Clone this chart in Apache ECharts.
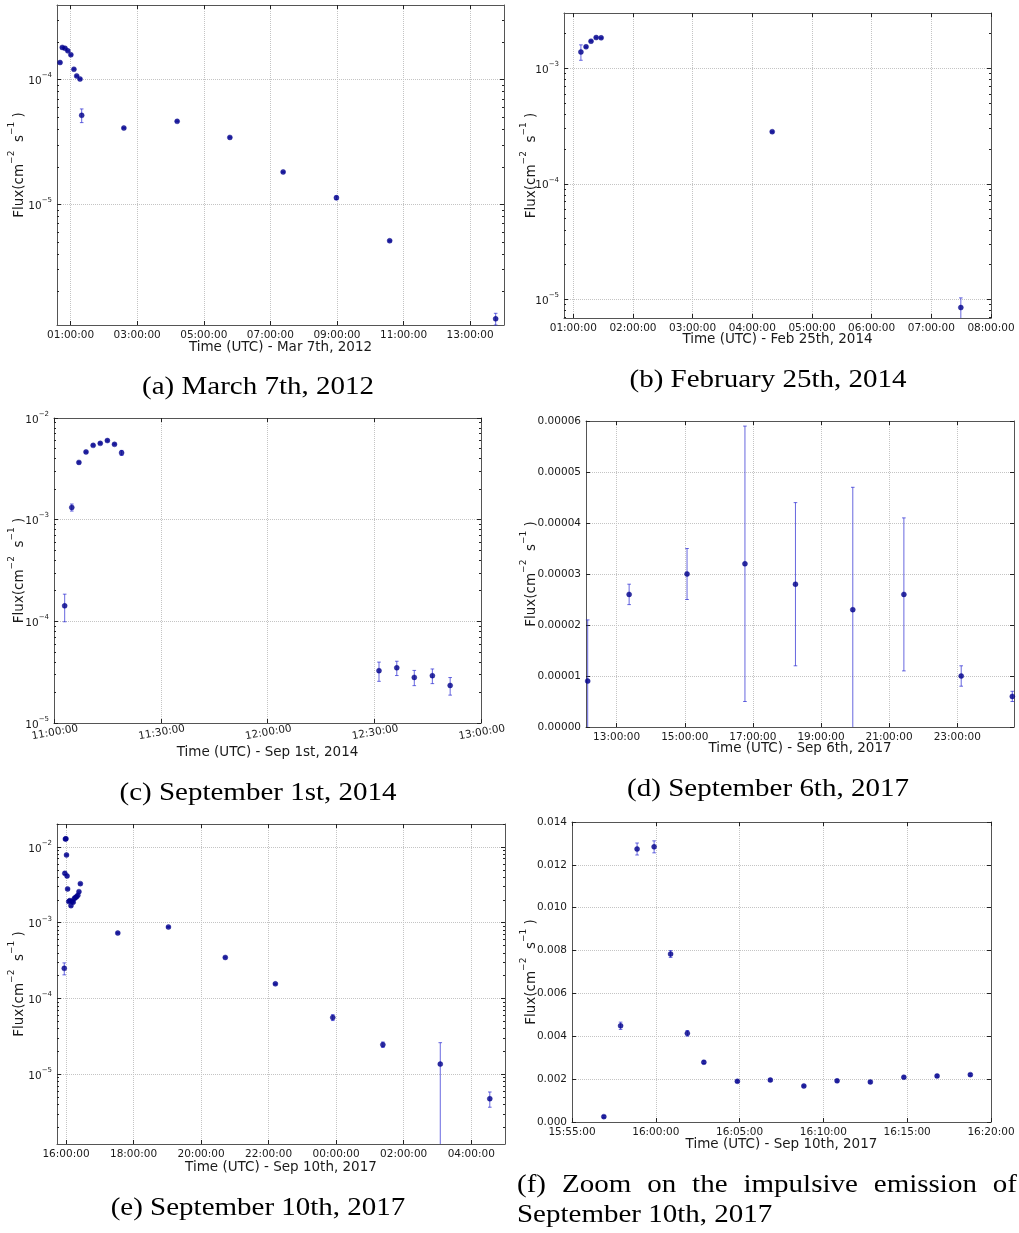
<!DOCTYPE html>
<html>
<head>
<meta charset="utf-8">
<script src="https://cdn.jsdelivr.net/npm/echarts@6/dist/echarts.min.js"></script>
<style>
  html, body { margin: 0; padding: 0; background: #fff; }
  #chart { width: 1019px; height: 1233px; }
</style>
</head>
<body>
<div id="chart"></div>
<script>
// ---------------------------------------------------------------
// Solar flare photon flux light curves (six events)
// Times are UTC clock strings; a time earlier than the previous one
// rolls over to the next day.
// ---------------------------------------------------------------

// (a) March 7th, 2012
const timeA = ['00:41', '00:45', '00:50', '00:55', '01:00:30', '01:06', '01:11', '01:17', '01:20',
               '02:36', '04:12', '05:47', '07:23', '08:59', '10:35', '13:46'];
const fluxA = [1.37e-4, 1.81e-4, 1.78e-4, 1.70e-4, 1.58e-4, 1.21e-4, 1.07e-4, 1.01e-4, 5.17e-5,
               4.09e-5, 4.63e-5, 3.44e-5, 1.82e-5, 1.13e-5, 5.11e-6, 1.21e-6];
const errA  = [1.5e-6, 1.8e-6, 1.8e-6, 1.7e-6, 1.6e-6, 1.2e-6, 1.1e-6, 1.0e-6, 6.5e-6,
               4e-7, 4e-7, 3e-7, 2e-7, 4e-7, 5e-8, 1.3e-7];
const xTickA = ['01:00', '03:00', '05:00', '07:00', '09:00', '11:00', '13:00'];
const yTickA = [1e-5, 1e-4];

// (b) February 25th, 2014
const timeB = ['01:07:40', '01:12:50', '01:17:50', '01:23:00', '01:28:00', '04:20:00', '07:29:40'];
const fluxB = [1.38e-3, 1.53e-3, 1.71e-3, 1.84e-3, 1.83e-3, 2.82e-4, 8.5e-6];
const errB  = [2.1e-4, 2e-5, 2e-5, 2e-5, 2e-5, 3e-6, 1.8e-6];
const xTickB = ['01:00', '02:00', '03:00', '04:00', '05:00', '06:00', '07:00', '08:00'];
const yTickB = [1e-5, 1e-4, 1e-3];

// (c) September 1st, 2014
const timeC = ['11:03', '11:05', '11:07', '11:09', '11:11', '11:13', '11:15', '11:17', '11:19',
               '12:31:20', '12:36:20', '12:41:15', '12:46:20', '12:51:20'];
const fluxC = [1.42e-4, 1.32e-3, 3.66e-3, 4.64e-3, 5.38e-3, 5.63e-3, 6.0e-3, 5.51e-3, 4.54e-3,
               3.27e-5, 3.49e-5, 2.81e-5, 2.92e-5, 2.34e-5];
const errC  = [4.3e-5, 1.05e-4, 6e-5, 8e-5, 8e-5, 8e-5, 9e-5, 8e-5, 2.6e-4,
               7e-6, 5.6e-6, 4.8e-6, 4.8e-6, 4.6e-6];
const xTickC = ['11:00', '11:30', '12:00', '12:30', '13:00'];
const yTickC = [1e-5, 1e-4, 1e-3, 1e-2];

// (d) September 6th, 2017
const timeD = ['12:09', '13:22', '15:04', '16:46', '18:15', '19:56', '21:26', '23:07', '00:37'];
const fluxD = [0.9e-5, 2.6e-5, 3.0e-5, 3.2e-5, 2.8e-5, 2.3e-5, 2.6e-5, 1.0e-5, 0.6e-5];
const errD  = [1.2e-5, 0.2e-5, 0.5e-5, 2.7e-5, 1.6e-5, 2.4e-5, 1.5e-5, 0.2e-5, 0.1e-5];
const xTickD = ['13:00', '15:00', '17:00', '19:00', '21:00', '23:00'];
const yTickD = [0, 1e-5, 2e-5, 3e-5, 4e-5, 5e-5, 6e-5];

// (f) September 10th, 2017 - impulsive phase
const timeF = ['15:56:54', '15:57:54', '15:58:53', '15:59:54', '16:00:53', '16:01:53', '16:02:52',
               '16:04:52', '16:06:50', '16:08:50', '16:10:49', '16:12:48', '16:14:48', '16:16:47', '16:18:46'];
const fluxF = [2.5e-4, 4.49e-3, 1.274e-2, 1.284e-2, 7.84e-3, 4.14e-3, 2.79e-3,
               1.90e-3, 1.96e-3, 1.68e-3, 1.92e-3, 1.87e-3, 2.09e-3, 2.15e-3, 2.21e-3];
const errF  = [4.5e-5, 1.7e-4, 2.8e-4, 2.8e-4, 1.6e-4, 1.3e-4, 6e-5,
               5e-5, 5e-5, 4e-5, 5e-5, 5e-5, 5e-5, 5e-5, 5e-5];
const xTickF = ['15:55', '16:00', '16:05', '16:10', '16:15', '16:20'];
const yTickF = [0, 0.002, 0.004, 0.006, 0.008, 0.010, 0.012, 0.014];

// (e) September 10th, 2017 - whole event (impulsive phase + later points)
const timeLate = ['16:21', '16:23', '16:25:30', '17:32', '19:02', '20:43', '22:12', '23:54',
                  '01:23', '03:05', '04:33'];
const fluxLate = [2.30e-3, 2.57e-3, 3.28e-3, 7.31e-4, 8.77e-4, 3.48e-4, 1.56e-4, 5.61e-5,
                  2.46e-5, 1.36e-5, 4.75e-6];
const errLate  = [5e-5, 5e-5, 6e-5, 1.5e-5, 1.5e-5, 6e-6, 3e-6, 5e-6,
                  2e-6, 1.25e-5, 1.08e-6];
const xTickE = ['16:00', '18:00', '20:00', '22:00', '00:00', '02:00', '04:00'];
const yTickE = [1e-5, 1e-4, 1e-3, 1e-2];

// ---------------------------------------------------------------
const FONT = 'DejaVu Sans';
const SERIF = 'Liberation Serif';
const TXT = '#1a1a1a';
const FRAME = '#555';
const GRID = '#c4c4c4';
const DOT = '#00008b';
const BAR = 'rgba(40,40,210,0.7)';

function toHours(list) {
  const out = [];
  let prev = -Infinity, add = 0;
  list.forEach(function (s) {
    const p = s.split(':').map(Number);
    let h = p[0] + (p[1] || 0) / 60 + (p[2] || 0) / 3600 + add;
    if (h < prev) { add += 24; h += 24; }
    out.push(h);
    prev = h;
  });
  return out;
}
function pad(n) { return (n < 10 ? '0' : '') + n; }
function clock(h) {
  let s = Math.round(h * 3600);
  s = ((s % 86400) + 86400) % 86400;
  return pad(Math.floor(s / 3600)) + ':' + pad(Math.floor((s % 3600) / 60)) + ':' + pad(s % 60);
}
function logLabel(v) {
  const e = Math.round(Math.log10(v));
  return '{b|10}{s|' + (e < 0 ? '\u2212' : '') + Math.abs(e) + '}';
}
function minorLog(min, max) {
  const out = [];
  for (let d = Math.floor(Math.log10(min)); d <= Math.ceil(Math.log10(max)); d++) {
    for (let k = 2; k <= 9; k++) {
      const v = k * Math.pow(10, d);
      if (v > min && v < max) out.push(v);
    }
  }
  return out;
}

const panels = [
  { times: timeA, flux: fluxA, err: errA, box: [57, 5, 447, 320],
    xRange: ['00:35:30', '14:01'], xTicks: xTickA, yType: 'log', yMin: 1.08e-6, yMax: 3.96e-4, yTicks: yTickA,
    xTitle: 'Time (UTC) - Mar 7th, 2012', xGap: 15, yGap: 30.5 },
  { times: timeB, flux: fluxB, err: errB, box: [564, 13, 427, 305],
    xRange: ['00:50:40', '08:00'], xTicks: xTickB, yType: 'log', yMin: 6.9e-6, yMax: 3.0e-3, yTicks: yTickB,
    xTitle: 'Time (UTC) - Feb 25th, 2014', xGap: 14, yGap: 26 },
  { times: timeC, flux: fluxC, err: errC, box: [54, 418, 427, 305],
    xRange: ['11:00', '13:00'], xTicks: xTickC, yType: 'log', yMin: 1e-5, yMax: 1e-2, yTicks: yTickC,
    xTitle: 'Time (UTC) - Sep 1st, 2014', xGap: 22, yGap: 28, xRotate: 10 },
  { times: timeD, flux: fluxD, err: errD, box: [586, 421, 428, 306],
    xRange: ['12:06', '00:40'], xTicks: xTickD, yType: 'value', yMin: 0, yMax: 6e-5, yTicks: yTickD,
    xTitle: 'Time (UTC) - Sep 6th, 2017', xGap: 14, yGap: 48, yDigits: 5 },
  { times: timeF.concat(timeLate), flux: fluxF.concat(fluxLate), err: errF.concat(errLate), box: [57, 824, 448, 320],
    xRange: ['15:44', '05:00'], xTicks: xTickE, yType: 'log', yMin: 1.2e-6, yMax: 2.01e-2, yTicks: yTickE,
    xTitle: 'Time (UTC) - Sep 10th, 2017', xGap: 16, yGap: 31 },
  { times: timeF, flux: fluxF, err: errF, box: [572, 822, 419, 300],
    xRange: ['15:55', '16:20'], xTicks: xTickF, yType: 'value', yMin: 0, yMax: 0.014, yTicks: yTickF,
    xTitle: 'Time (UTC) - Sep 10th, 2017', xGap: 15, yGap: 34, yDigits: 3 }
];

const option = {
  backgroundColor: '#fff',
  animation: false,
  grid: [], xAxis: [], yAxis: [], series: [], graphic: []
};

const tickStyle = { color: '#222', width: 1 };
const labelBase = { fontFamily: FONT, fontSize: 10.5, color: TXT };

panels.forEach(function (p, i) {
  const [left, top, width, height] = p.box;
  option.grid.push({ left: left, top: top, width: width, height: height });
  const xs = toHours(p.times);
  const xr = toHours(p.xRange);
  const xt = toHours(p.xTicks);
  const xi = option.xAxis.length;
  const yi = option.yAxis.length;

  option.xAxis.push({
    gridIndex: i, type: 'value', position: 'bottom', min: xr[0], max: xr[1],
    axisLine: { show: true, onZero: false, lineStyle: { color: FRAME, width: 1 } },
    axisTick: { show: true, inside: true, length: 4, customValues: xt, lineStyle: tickStyle },
    axisLabel: Object.assign({ customValues: xt, formatter: clock, margin: 5,
      rotate: p.xRotate || 0 }, labelBase, p.xRotate ? { align: 'center', verticalAlign: 'top', margin: 4 } : {}),
    splitLine: { show: true, lineStyle: { color: GRID, type: 'dotted', width: 1 } },
    name: p.xTitle, nameLocation: 'middle', nameGap: p.xGap, nameMoveOverlap: false,
    nameTextStyle: { fontFamily: FONT, fontSize: 13.5, color: TXT, verticalAlign: 'top' }
  });
  option.xAxis.push({
    gridIndex: i, type: 'value', position: 'top', min: xr[0], max: xr[1],
    axisLine: { show: true, onZero: false, lineStyle: { color: FRAME, width: 1 } },
    axisTick: { show: true, inside: true, length: 4, customValues: xt, lineStyle: tickStyle },
    axisLabel: { show: false }, splitLine: { show: false }
  });

  const yBase = { gridIndex: i, type: p.yType, min: p.yMin, max: p.yMax };
  if (p.yType === 'log') yBase.logBase = 10;
  const yFmt = p.yType === 'log' ? logLabel : function (v) { return v.toFixed(p.yDigits); };

  option.yAxis.push(Object.assign({}, yBase, {
    position: 'left',
    axisLine: { show: true, onZero: false, lineStyle: { color: FRAME, width: 1 } },
    axisTick: { show: true, inside: true, length: 4, customValues: p.yTicks, lineStyle: tickStyle },
    axisLabel: Object.assign({ customValues: p.yTicks, formatter: yFmt, margin: 5,
      rich: {
        b: { fontFamily: FONT, fontSize: 10.5, color: TXT, verticalAlign: 'bottom', lineHeight: 15 },
        s: { fontFamily: FONT, fontSize: 7, color: TXT, verticalAlign: 'top', lineHeight: 15 }
      } }, labelBase),
    splitLine: { show: true, lineStyle: { color: GRID, type: 'dotted', width: 1 } },
    name: '{n|Flux(cm}{s|\u22122}{n|  s}{s|\u22121}{n| )}',
    nameLocation: 'middle', nameRotate: 90, nameGap: p.yGap, nameMoveOverlap: false,
    nameTextStyle: {
      fontFamily: FONT, fontSize: 13.5, color: TXT,
      rich: {
        n: { fontFamily: FONT, fontSize: 13.5, color: TXT, verticalAlign: 'bottom', lineHeight: 19 },
        s: { fontFamily: FONT, fontSize: 9, color: TXT, verticalAlign: 'top', lineHeight: 19 }
      }
    }
  }));
  option.yAxis.push(Object.assign({}, yBase, {
    position: 'right',
    axisLine: { show: true, onZero: false, lineStyle: { color: FRAME, width: 1 } },
    axisTick: { show: true, inside: true, length: 4, customValues: p.yTicks, lineStyle: tickStyle },
    axisLabel: { show: false }, splitLine: { show: false }
  }));
  if (p.yType === 'log') {
    const minors = minorLog(p.yMin, p.yMax);
    ['left', 'right'].forEach(function (side) {
      option.yAxis.push(Object.assign({}, yBase, {
        position: side,
        axisLine: { show: false, onZero: false },
        axisTick: { show: true, inside: true, length: 2, customValues: minors, lineStyle: tickStyle },
        axisLabel: { show: false }, splitLine: { show: false }
      }));
    });
  }

  const pts = xs.map(function (x, k) { return [x, p.flux[k]]; });
  const bars = xs.map(function (x, k) { return [x, p.flux[k] - p.err[k], p.flux[k] + p.err[k]]; });

  option.series.push({
    type: 'custom', xAxisIndex: xi, yAxisIndex: yi, silent: true, z: 2,
    data: bars,
    encode: { x: 0, y: [1, 2] },
    renderItem: function (params, api) {
      const cs = params.coordSys;
      const x = api.value(0);
      const lo = api.value(1), hi = api.value(2);
      const pHi = api.coord([x, hi]);
      const pLo = api.coord([x, lo]);
      const yTop = cs.y, yBot = cs.y + cs.height;
      let y1 = pHi[1], y2 = pLo[1];
      if (!isFinite(y2)) y2 = yBot + 10;
      const children = [];
      const style = { stroke: BAR, lineWidth: 1 };
      const cy1 = Math.max(y1, yTop), cy2 = Math.min(y2, yBot);
      children.push({ type: 'line', shape: { x1: pHi[0], y1: cy1, x2: pHi[0], y2: cy2 }, style: style });
      const c = 1.8;
      if (y1 >= yTop) children.push({ type: 'line', shape: { x1: pHi[0] - c, y1: y1, x2: pHi[0] + c, y2: y1 }, style: style });
      if (y2 <= yBot) children.push({ type: 'line', shape: { x1: pHi[0] - c, y1: y2, x2: pHi[0] + c, y2: y2 }, style: style });
      return { type: 'group', children: children };
    }
  });
  option.series.push({
    type: 'scatter', xAxisIndex: xi, yAxisIndex: yi, silent: true, z: 3,
    symbol: 'circle', symbolSize: 5,
    itemStyle: { color: DOT, borderColor: DOT, borderWidth: 0.5 },
    data: pts
  });
});

// sub-figure captions (serif, slightly widened)
const CAP_SIZE = 26;
const CAP_STRETCH = 1.115;
const captions = [
  { text: '(a) March 7th, 2012', x: 258, y: 387 },
  { text: '(b) February 25th, 2014', x: 768, y: 380 },
  { text: '(c) September 1st, 2014', x: 258, y: 793 },
  { text: '(d) September 6th, 2017', x: 768, y: 789 },
  { text: '(e) September 10th, 2017', x: 258, y: 1208 }
];
captions.forEach(function (c) {
  option.graphic.push({
    type: 'text', x: c.x, y: c.y, scaleX: CAP_STRETCH, silent: true,
    style: { text: c.text, fontFamily: SERIF, fontSize: CAP_SIZE, fill: '#000',
             textAlign: 'center', textVerticalAlign: 'middle' }
  });
});

// justified two-line caption for (f)
(function () {
  const words = ['(f)', 'Zoom', 'on', 'the', 'impulsive', 'emission', 'of'];
  const x0 = 517, x1 = 1017;
  const ctx = document.createElement('canvas').getContext('2d');
  ctx.font = CAP_SIZE + 'px "' + SERIF + '"';
  const widths = words.map(function (w) { return ctx.measureText(w).width * CAP_STRETCH; });
  const total = widths.reduce(function (a, b) { return a + b; }, 0);
  const gap = (x1 - x0 - total) / (words.length - 1);
  let x = x0;
  words.forEach(function (w, k) {
    option.graphic.push({
      type: 'text', x: x, y: 1185, scaleX: CAP_STRETCH, silent: true,
      style: { text: w, fontFamily: SERIF, fontSize: CAP_SIZE, fill: '#000',
               textAlign: 'left', textVerticalAlign: 'middle' }
    });
    x += widths[k] + gap;
  });
  option.graphic.push({
    type: 'text', x: x0, y: 1215, scaleX: CAP_STRETCH, silent: true,
    style: { text: 'September 10th, 2017', fontFamily: SERIF, fontSize: CAP_SIZE, fill: '#000',
             textAlign: 'left', textVerticalAlign: 'middle' }
  });
})();

const chart = echarts.init(document.getElementById('chart'), null, { renderer: 'canvas' });
chart.setOption(option);
</script>
</body>
</html>
